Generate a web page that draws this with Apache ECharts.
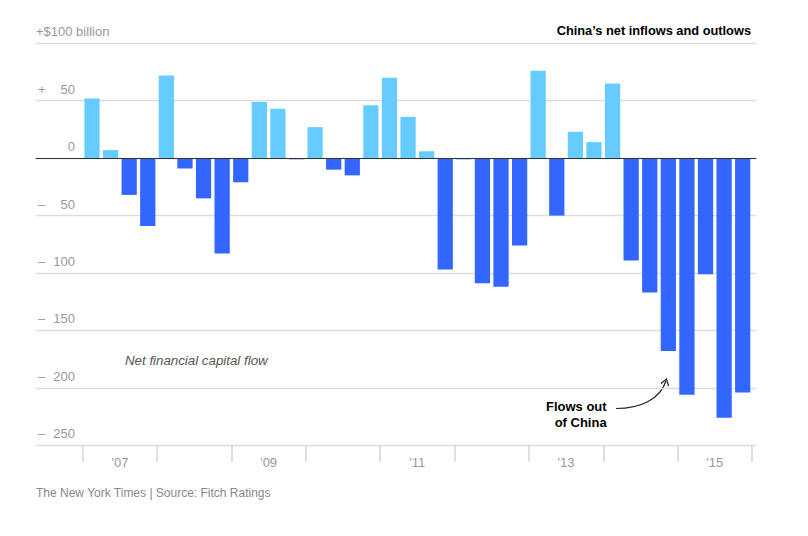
<!DOCTYPE html>
<html>
<head>
<meta charset="utf-8">
<script src="https://cdn.jsdelivr.net/npm/echarts@6/dist/echarts.min.js"></script>
<style>
  html, body { margin: 0; padding: 0; background: #fff; }
  #chart { width: 808px; height: 536px; }
</style>
</head>
<body>
<div id="chart"></div>
<script>
// Quarterly net financial capital flow, $ billion, 2007 Q1 – 2015 Q4
const quarters = [
  "2007Q1","2007Q2","2007Q3","2007Q4",
  "2008Q1","2008Q2","2008Q3","2008Q4",
  "2009Q1","2009Q2","2009Q3","2009Q4",
  "2010Q1","2010Q2","2010Q3","2010Q4",
  "2011Q1","2011Q2","2011Q3","2011Q4",
  "2012Q1","2012Q2","2012Q3","2012Q4",
  "2013Q1","2013Q2","2013Q3","2013Q4",
  "2014Q1","2014Q2","2014Q3","2014Q4",
  "2015Q1","2015Q2","2015Q3","2015Q4"
];
const flows = [
  52, 7, -32, -59,
  72, -9, -35, -83,
  -21, 49, 43, -1,
  27, -10, -15, 46,
  70, 36, 6, -97,
  -1, -109, -112, -76,
  76, -50, 23, 14,
  65, -89, -117, -168,
  -206, -101, -226, -204
];
const years = ["'07","'08","'09","'10","'11","'12","'13","'14","'15"];
const yTicks = { "100": "+$100 billion" };

const FONT = "'Liberation Sans', Arial, sans-serif";
const chart = echarts.init(document.getElementById('chart'), null, { renderer: 'svg' });

const gridTop = 43.3, gridBottom = 536 - 445.3;

chart.setOption({
  animation: false,
  backgroundColor: '#fff',
  textStyle: { fontFamily: FONT },
  grid: [
    { left: 36, right: 52, top: gridTop, bottom: gridBottom },
    { left: 82.7, right: 56, top: gridTop, bottom: gridBottom }
  ],
  xAxis: [
    { gridIndex: 0, type: 'category', data: [''], z: 10,
      axisLine: { show: true, onZero: true, lineStyle: { color: '#333', width: 1.2 } },
      axisTick: { show: false }, axisLabel: { show: false }, splitLine: { show: false } },
    { gridIndex: 1, type: 'category', data: quarters, show: false },
    { gridIndex: 1, type: 'category', data: years, position: 'bottom',
      axisLine: { show: false, onZero: false },
      axisTick: { show: true, length: 16.5, interval: 0, lineStyle: { color: '#d6d6d6', width: 1.5 } },
      axisLabel: { interval: 1, margin: 11, color: '#999', fontSize: 13, fontFamily: FONT } }
  ],
  yAxis: [
    { gridIndex: 0, type: 'value', min: -250, max: 100, interval: 50,
      axisLine: { show: false }, axisTick: { show: false },
      splitLine: { lineStyle: { color: '#dddddd', width: 1.3 } },
      axisLabel: {
        inside: true, margin: 0, verticalAlign: 'bottom', padding: [0, 0, 5, 0],
        color: '#999', fontSize: 13, fontFamily: FONT,
        formatter: function (v) {
          if (yTicks[String(v)]) return yTicks[String(v)];
          if (v === 0) return '{s|}{n|0}';
          return '{s|' + (v > 0 ? '+' : '–') + '}{n|' + Math.abs(v) + '}';
        },
        rich: {
          s: { width: 10, align: 'left', color: '#999', fontSize: 13, fontFamily: FONT, padding: [0, 0, 0, 2] },
          n: { width: 27, align: 'right', color: '#999', fontSize: 13, fontFamily: FONT }
        }
      } },
    { gridIndex: 1, type: 'value', min: -250, max: 100, interval: 50, show: false,
      splitLine: { show: false } }
  ],
  series: [
    {
      type: 'bar', xAxisIndex: 1, yAxisIndex: 1,
      barCategoryGap: '18%',
      data: flows.map(v => ({ value: v, itemStyle: { color: v >= 0 ? '#66ccff' : '#3366ff' } })),
      z: 2
    }
  ],
  graphic: [
    { type: 'text', right: 808 - 751, top: 23.5,
      style: { text: 'China’s net inflows and outlows', font: 'bold 12.8px ' + FONT, fill: '#000' } },
    { type: 'text', left: 125, top: 354,
      style: { text: 'Net financial capital flow', font: 'italic 13.3px ' + FONT, fill: '#555' } },
    { type: 'text', left: 546, top: 399,
      style: { text: 'Flows out\nof China', font: 'bold 13px ' + FONT, fill: '#000',
        align: 'right', lineHeight: 15.5, x: 60, textAlign: 'right' } },
    { type: 'bezierCurve', silent: true,
      shape: { x1: 616, y1: 408.5, cpx1: 641, cpy1: 408.5, cpx2: 660, cpy2: 399, x2: 666, y2: 381 },
      style: { stroke: '#222', lineWidth: 1.2, fill: null } },
    { type: 'polyline', silent: true,
      shape: { points: [[661, 383.5], [666.5, 379], [668.5, 386]] },
      style: { stroke: '#222', lineWidth: 1.2, fill: null } },
    { type: 'text', left: 36, top: 486.5,
      style: { text: 'The New York Times | Source: Fitch Ratings', font: '12px ' + FONT, fill: '#888' } }
  ]
});
</script>
</body>
</html>
